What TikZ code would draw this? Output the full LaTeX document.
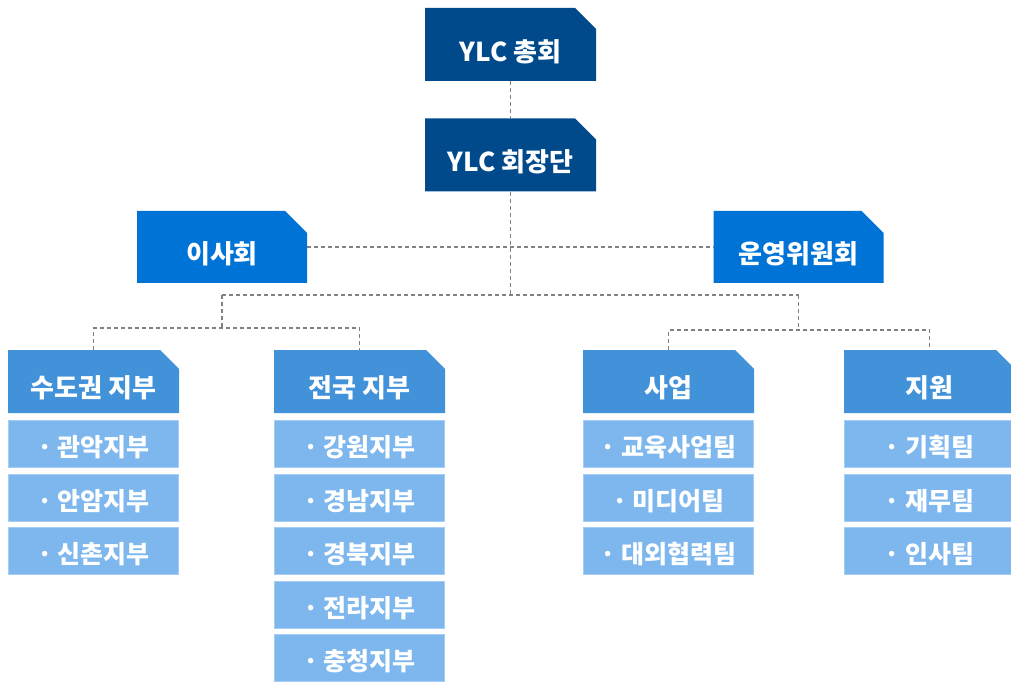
\documentclass[tikz,border=0pt]{standalone}
\usepackage{fontspec}
\setmainfont{Noto Sans CJK KR}
\definecolor{navy}{RGB}{0,74,140}
\definecolor{boardblue}{RGB}{0,115,215}
\definecolor{unitblue}{RGB}{66,146,218}
\definecolor{teamblue}{RGB}{125,183,238}
\definecolor{teamline}{RGB}{165,205,245}
\definecolor{linkgray}{RGB}{128,128,128}
\tikzset{
  cutfill/.style 2 args={fill=white, path picture={
    \fill [#1] (path picture bounding box.south west) -- (path picture bounding box.north west)
      -- ([xshift=-#2]path picture bounding box.north east) -- ([yshift=-#2]path picture bounding box.north east)
      -- (path picture bounding box.south east) -- cycle;}}
}
\tikzstyle{chief} = [cutfill={navy}{21pt}, minimum width=171pt, minimum height=73pt, inner sep=0pt, text=white, font=\fontsize{26}{26}\selectfont\bfseries, text height=33.5pt, text depth=0pt]
\tikzstyle{council} = [chief, cutfill={boardblue}{22pt}, minimum width=170pt, minimum height=72pt]
\tikzstyle{unit} = [cutfill={unitblue}{19pt}, minimum width=171pt, minimum height=63pt, inner sep=0pt, text=white, font=\fontsize{26}{26}\selectfont\bfseries, text height=32pt, text depth=0pt]
\tikzstyle{team} = [rectangle, fill=teamblue, draw=teamline, line width=0.8pt, minimum width=170pt, minimum height=47pt, inner sep=0pt, text=white, font=\fontsize{25}{25}\selectfont\bfseries, text height=25pt, text depth=0pt]
\tikzstyle{link} = [draw=linkgray, dash pattern=on 4pt off 3pt, line width=1.1pt]

\begin{document}
\begin{tikzpicture}[x=1pt, y=-1pt]
            \useasboundingbox (0,0) rectangle (1011,684);

            \node [chief] at (510.5,44.5) (assembly) {YLC 총회};
            \node [chief] at (510.5,155) (presidium) {YLC 회장단};
            \node [council] at (222,247) (board) {이사회};
            \node [council] at (798.5,247) (committee) {운영위원회};

            \node [unit] at (93.5,381.5) (capital) {수도권 지부};
            \node [unit] at (359.5,381.5) (nation) {전국 지부};
            \node [unit] at (668.5,381.5) (project) {사업};
            \node [unit] at (929.5,381.5) (support) {지원};

            \node [team] at (93.5,444) (gwanak) {· 관악지부};
            \node [team] at (93.5,497.5) (anam) {· 안암지부};
            \node [team] at (93.5,551) (sinchon) {· 신촌지부};

            \node [team] at (359.5,444) (gangwon) {· 강원지부};
            \node [team] at (359.5,497.5) (gyeongnam) {· 경남지부};
            \node [team] at (359.5,551) (gyeongbuk) {· 경북지부};
            \node [team] at (359.5,604.5) (jeolla) {· 전라지부};
            \node [team] at (359.5,658) (chungcheong) {· 충청지부};

            \node [team] at (668.5,444) (education) {· 교육사업팀};
            \node [team] at (668.5,497.5) (media) {· 미디어팀};
            \node [team] at (668.5,551) (external) {· 대외협력팀};

            \node [team] at (929.5,444) (planning) {· 기획팀};
            \node [team] at (929.5,497.5) (finance) {· 재무팀};
            \node [team] at (929.5,551) (personnel) {· 인사팀};

            \coordinate (hub) at (510.5,295);
            \coordinate (lhub) at (222,295);
            \coordinate (rhub) at (798.5,295);
            \coordinate (lfork) at (222,328);
            \coordinate (rfork) at (798.5,330);

            \draw [link] (assembly) -- (presidium);
            \draw [link] (presidium) -- (hub);
            \draw [link] (board) -- (committee);
            \draw [link] (lhub) -- (rhub);
            \draw [link] (lhub) -- (lfork);
            \draw [link] (rhub) -- (rfork);
            \draw [link] (capital.north) |- (lfork) -| (nation.north);
            \draw [link] (project.north) |- (rfork) -| (support.north);
\end{tikzpicture}
\end{document}
